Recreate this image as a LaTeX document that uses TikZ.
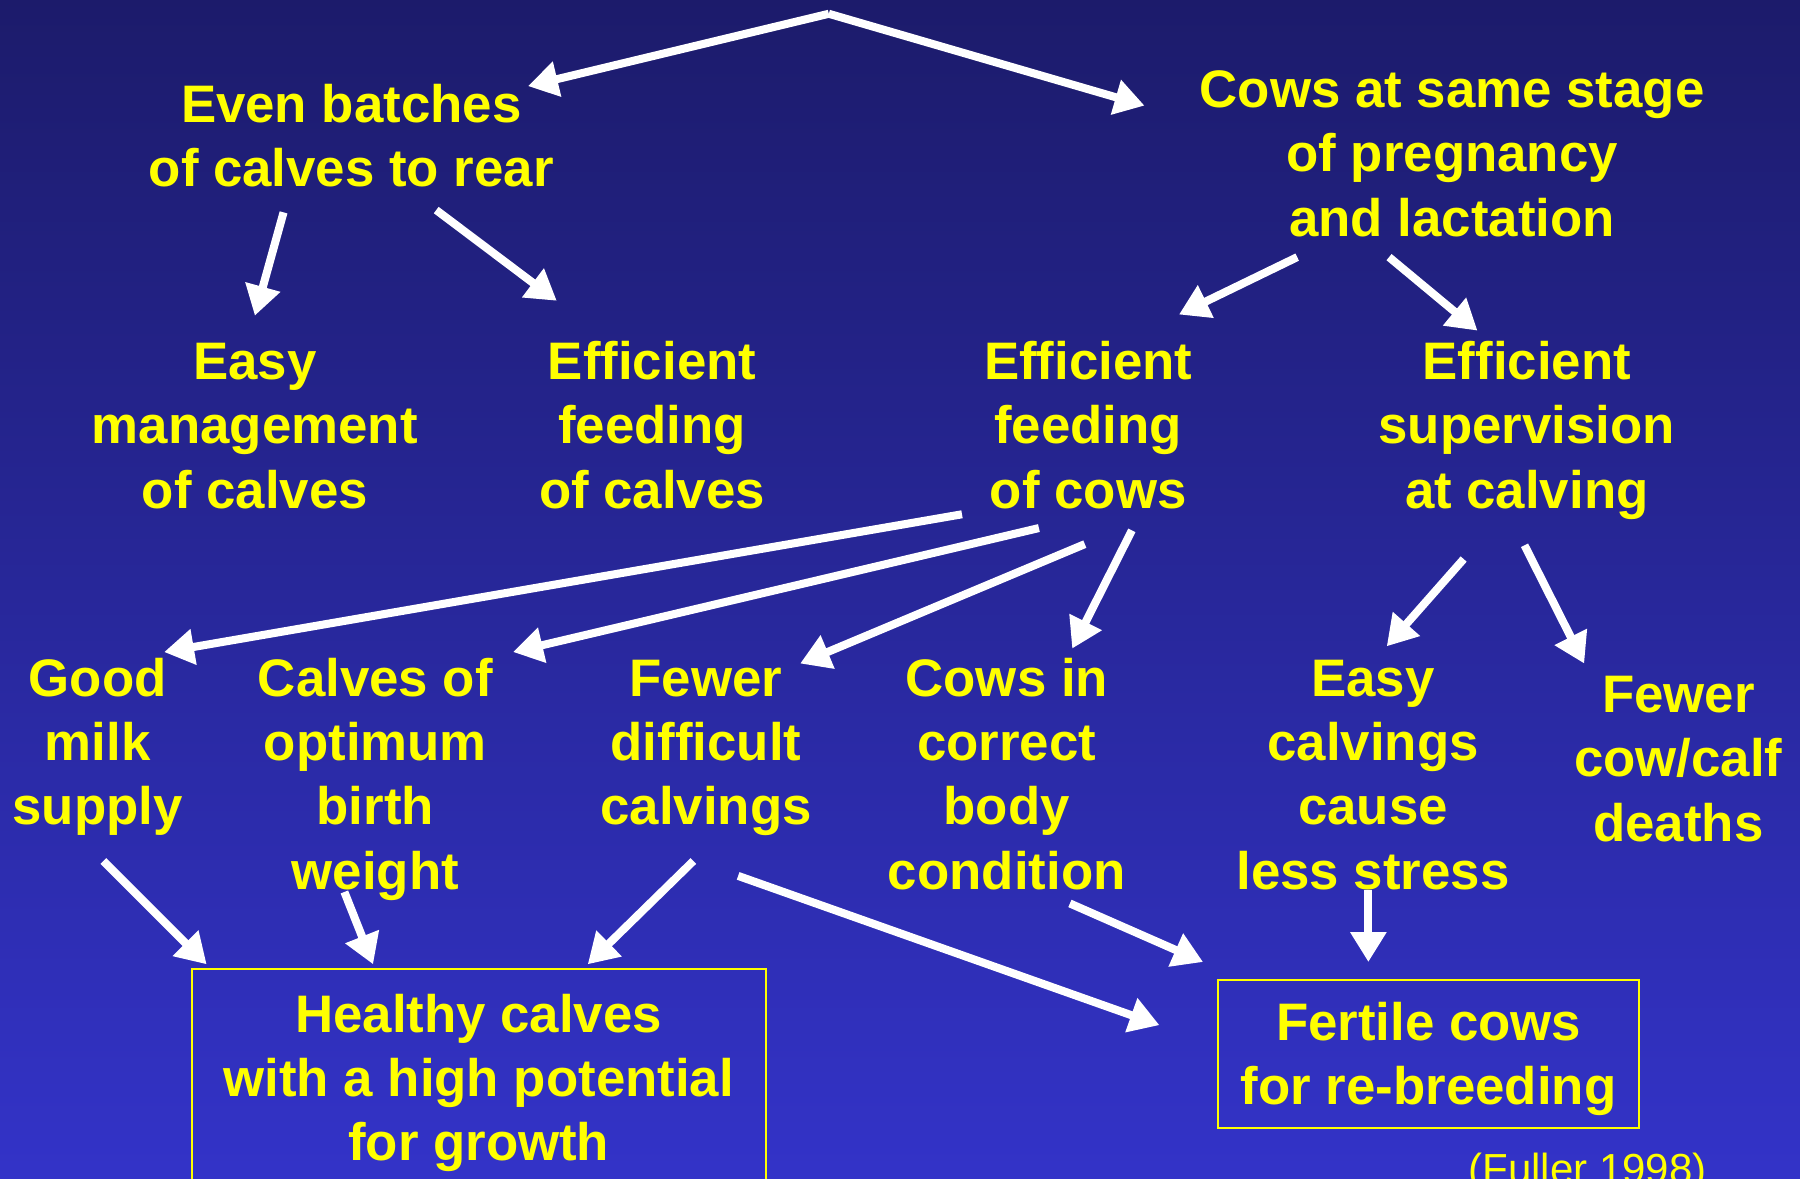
\documentclass[tikz,border=0pt]{standalone}
\usepackage{fontspec}
\setmainfont{Liberation Sans}
\usetikzlibrary{arrows.meta}
\definecolor{bgtop}{RGB}{28,27,107}
\definecolor{bgbot}{RGB}{51,51,200}
\definecolor{txt}{RGB}{255,255,0}
\tikzset{
  lbl/.style={text=txt, align=center, inner sep=0pt, anchor=north,
    font=\bfseries\fontsize{23}{28}\selectfont},
  boxed/.style={lbl, draw=txt, line width=0.8pt},
  arr/.style={draw=white, line width=3.5pt,
    -{Triangle[length=13pt,width=15pt]}, shorten <=0pt},
}
\begin{document}
\begin{tikzpicture}[x=0.5pt,y=-0.5pt]
\useasboundingbox (0,0) rectangle (1568,1027);
\shade[top color=bgtop, bottom color=bgbot] (0,0) rectangle (1568,1027);

\coordinate (apex) at (722,12);
\node[lbl] (even) at (306,67) {\strut Even batches\\of calves to rear};
\node[lbl] (cows) at (1265,54) {\strut Cows at same stage\\of pregnancy\\and lactation};
\node[lbl] (easyman) at (222,291) {\strut Easy\\management\\of calves};
\node[lbl] (feedcalf) at (568,291) {\strut Efficient\\feeding\\of calves};
\node[lbl] (feedcow) at (948,291) {\strut Efficient\\feeding\\of cows};
\node[lbl] (superv) at (1330,291) {\strut Efficient\\supervision\\at calving};
\node[lbl] (milk) at (85,567) {\strut Good\\milk\\supply};
\node[lbl] (optim) at (327,567) {\strut Calves of\\optimum\\birth\\weight};
\node[lbl] (fewdiff) at (615,567) {\strut Fewer\\difficult\\calvings};
\node[lbl] (bodycond) at (877,567) {\strut Cows in\\correct\\body\\condition};
\node[lbl] (easycalv) at (1196,567) {\strut Easy\\calvings\\cause\\less stress};
\node[lbl] (fewdeath) at (1462,581) {\strut Fewer\\cow/calf\\deaths};
\node[boxed, minimum width=250pt, minimum height=100pt] (healthy) at (417,843)
  {\strut Healthy calves\\with a high potential\\for growth\strut};
\node[boxed, minimum width=183.5pt, minimum height=64.5pt] (fertile) at (1244.5,853)
  {\rule{0pt}{24.6pt}Fertile cows\\for re-breeding\strut};
\node[text=txt, inner sep=0pt, anchor=base, font=\fontsize{18.3}{22}\selectfont] (cite) at (1383,1031) {(Fuller 1998)};

% connector endpoints
\coordinate (a1) at (460,75);
\coordinate (a2) at (997,92);
\coordinate (e1) at (247,185); \coordinate (e1t) at (222,275);
\coordinate (e2) at (380,183); \coordinate (e2t) at (485,262);
\coordinate (c1) at (1130,224); \coordinate (c1t) at (1027,274);
\coordinate (c2) at (1210,224); \coordinate (c2t) at (1287,288);
\coordinate (f1) at (838,448); \coordinate (f1t) at (143,568);
\coordinate (f2) at (905,460); \coordinate (f2t) at (447,568);
\coordinate (f3) at (945,474); \coordinate (f3t) at (697,578);
\coordinate (f4) at (986,462); \coordinate (f4t) at (934,565);
\coordinate (s1) at (1275,487); \coordinate (s1t) at (1208,563);
\coordinate (s2) at (1328,475); \coordinate (s2t) at (1380,578);
\coordinate (m1) at (90,750); \coordinate (m1t) at (180,840);
\coordinate (o1) at (300,777); \coordinate (o1t) at (325,840);
\coordinate (d1) at (604,750); \coordinate (d1t) at (512,840);
\coordinate (d2) at (643,763); \coordinate (d2t) at (1010,893);
\coordinate (b1) at (932,787); \coordinate (b1t) at (1048,838);
\coordinate (l1) at (1192,775); \coordinate (l1t) at (1192,838);

\draw[arr] (apex) -- (a1);
\draw[arr] (apex) -- (a2);
\draw[arr] (e1) -- (e1t);
\draw[arr] (e2) -- (e2t);
\draw[arr] (c1) -- (c1t);
\draw[arr] (c2) -- (c2t);
\draw[arr] (f1) -- (f1t);
\draw[arr] (f2) -- (f2t);
\draw[arr] (f3) -- (f3t);
\draw[arr] (f4) -- (f4t);
\draw[arr] (s1) -- (s1t);
\draw[arr] (s2) -- (s2t);
\draw[arr] (m1) -- (m1t);
\draw[arr] (o1) -- (o1t);
\draw[arr] (d1) -- (d1t);
\draw[arr] (d2) -- (d2t);
\draw[arr] (b1) -- (b1t);
\draw[arr] (l1) -- (l1t);
\end{tikzpicture}
\end{document}
